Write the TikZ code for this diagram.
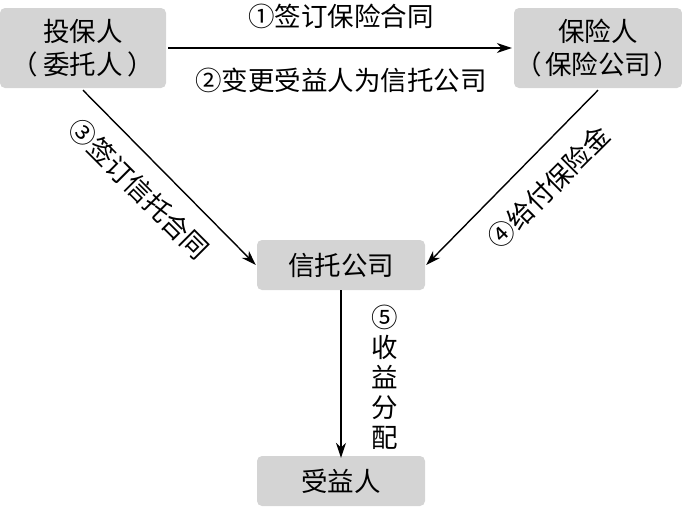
\documentclass[tikz,border=0pt]{standalone}
\usepackage{fontspec}
\newfontfamily\cjk{Noto Sans CJK SC}
\usetikzlibrary{arrows.meta}
\begin{document}
\begin{tikzpicture}[x=1pt,y=1pt,
  every node/.style={font=\cjk\fontsize{26.5}{33}\selectfont, inner sep=0pt},
  box/.style={fill=black!17, rounded corners=5pt, align=center},
  conn/.style={line width=1.4pt, -{Stealth[length=15pt,width=10pt]}},
  lab/.style={align=center}]
\useasboundingbox (0,0) rectangle (682,-506);
\node[box, minimum width=166pt, minimum height=80pt] (A) at (83,-48) {投保人\\（\hspace{5pt}委托人\hspace{5pt}）};
\node[box, minimum width=168pt, minimum height=80pt] (B) at (598,-48) {保险人\\（\hspace{3pt}保险公司\hspace{3pt}）};
\node[box, minimum width=168pt, minimum height=50pt] (T) at (341,-265) {信托公司};
\node[box, minimum width=168pt, minimum height=50pt] (R) at (341,-481) {受益人};
\draw[conn] ([xshift=2pt]A.east) -- ([xshift=-2pt]B.west);
\node[lab] (l1) at (341,-16) {①签订保险合同};
\node[lab] (l2) at (341,-80) {②变更受益人为信托公司};
\draw[conn] ([yshift=-2pt]A.south) -- ([xshift=-1pt]T.west);
\draw[conn] ([yshift=-2pt]B.south) -- ([xshift=1pt]T.east);
\draw[conn] (T.south) -- ([yshift=-2pt]R.north);
\node[lab, rotate=-45] (l3) at (139,-189) {③签订信托合同};
\node[lab, rotate=45] (l4) at (549,-187) {④给付保险金};
\node[lab, font=\cjk\fontsize{26.5}{30}\selectfont] (l5) at (385,-377) {⑤\\收\\益\\分\\配};
\end{tikzpicture}
\end{document}
